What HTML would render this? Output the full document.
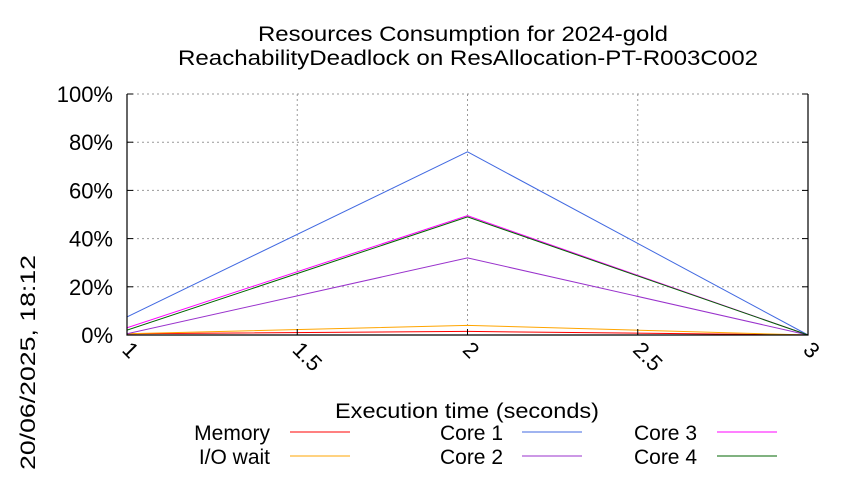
<!DOCTYPE html>
<html><head><meta charset="utf-8"><style>
body{margin:0;background:#fff;font-family:"Liberation Sans",sans-serif}
svg text{font-family:"Liberation Sans",sans-serif;fill:#000}
</style></head><body>
<svg width="850" height="475" viewBox="0 0 850 475">
<g id="grid"></g>
<g id="series"></g>
<g id="axes"></g>
<text x="258" y="41" font-size="21" textLength="410" lengthAdjust="spacingAndGlyphs">Resources Consumption for 2024-gold</text>
<text x="178" y="65" font-size="21" textLength="580" lengthAdjust="spacingAndGlyphs">ReachabilityDeadlock on ResAllocation-PT-R003C002</text>
<text x="335" y="418" font-size="21" textLength="264" lengthAdjust="spacingAndGlyphs">Execution time (seconds)</text>
<text transform="translate(35,470) rotate(-90)" font-size="21" textLength="215" lengthAdjust="spacingAndGlyphs">20/06/2025, 18:12</text>
<g id="legend"></g>
</svg>
<script>
const xValues=[1,2,3];
const memory=[0.5,1.5,0];
const ioWait=[0.5,4,0];
const core1=[7.5,76,0];
const core2=[0.5,32,0];
const core3=[3,49.5,0];
const core4=[2,49,0];
const xTicks=[1,1.5,2,2.5,3];
const xTickLabels=["1","1.5","2","2.5","3"];
const yTicks=[0,20,40,60,80,100];
const yTickLabels=["0%","20%","40%","60%","80%","100%"];
const NS="http://www.w3.org/2000/svg";
const L=127,R=808,T=94,B=335;
const xs=v=>L+(v-1)/2*(R-L);
const ys=v=>B-v/100*(B-T);
function mk(tag,attrs,parent){const e=document.createElementNS(NS,tag);for(const k in attrs)e.setAttribute(k,attrs[k]);parent.appendChild(e);return e;}
const grid=document.getElementById('grid'),axes=document.getElementById('axes'),ser=document.getElementById('series'),leg=document.getElementById('legend');
yTicks.forEach((t,i)=>{
 if(t>0&&t<100){const g=mk('line',{x1:L,x2:R,y1:ys(t),y2:ys(t),stroke:'#999','stroke-dasharray':'2,3','stroke-width':1},grid);
 
 }
 const tx=mk('text',{x:L-14,y:ys(t)+8,'font-size':22,'text-anchor':'end'},axes);
 tx.textContent=yTickLabels[i];
 
 
 mk('line',{x1:L,x2:L+6,y1:ys(t),y2:ys(t),stroke:'#000'},axes);
 mk('line',{x1:R,x2:R-6,y1:ys(t),y2:ys(t),stroke:'#000'},axes);
});
mk('line',{x1:L,x2:R,y1:T,y2:T,stroke:'#999','stroke-dasharray':'2,3'},grid);
xTicks.forEach((t,i)=>{
 if(t>1&&t<3){const g=mk('line',{x1:xs(t),x2:xs(t),y1:T,y2:B,stroke:'#999','stroke-dasharray':'2,3'},grid);
 
 }
 mk('line',{x1:xs(t),x2:xs(t),y1:B,y2:B-6,stroke:'#000'},axes);
 const tx=mk('text',{transform:`translate(${xs(t)-6},${B+16}) rotate(45)`,'font-size':22},axes);
 tx.textContent=xTickLabels[i];
 
 
});
mk('polyline',{points:`${L},${T} ${L},${B} ${R},${B} ${R},${T}`,fill:'none',stroke:'#000','stroke-width':1.2},axes);
const series=[["Memory",memory,"#ff0000"],["I/O wait",ioWait,"#ffa500"],["Core 1",core1,"#4169e1"],["Core 2",core2,"#9932cc"],["Core 3",core3,"#ff00ff"],["Core 4",core4,"#006400"]];
series.forEach(([n,d,c])=>{
 const p=mk('polyline',{points:d.map((v,i)=>xs(xValues[i])+','+ys(v)).join(' '),fill:'none',stroke:c,'stroke-width':1},ser);
 
 
});
const lpos=[[270,432,290],[270,456,290],[503,432,522],[503,456,522],[697,432,717],[697,456,717]];
series.forEach(([n,d,c],i)=>{
 const [tx,ty,lx]=lpos[i];
 const t=mk('text',{x:tx,y:ty+8,'font-size':21,'text-anchor':'end'},leg);
 t.textContent=n;
 
 
 mk('line',{x1:lx,x2:lx+60,y1:ty,y2:ty,stroke:c},leg);
});
</script>
</body></html>
